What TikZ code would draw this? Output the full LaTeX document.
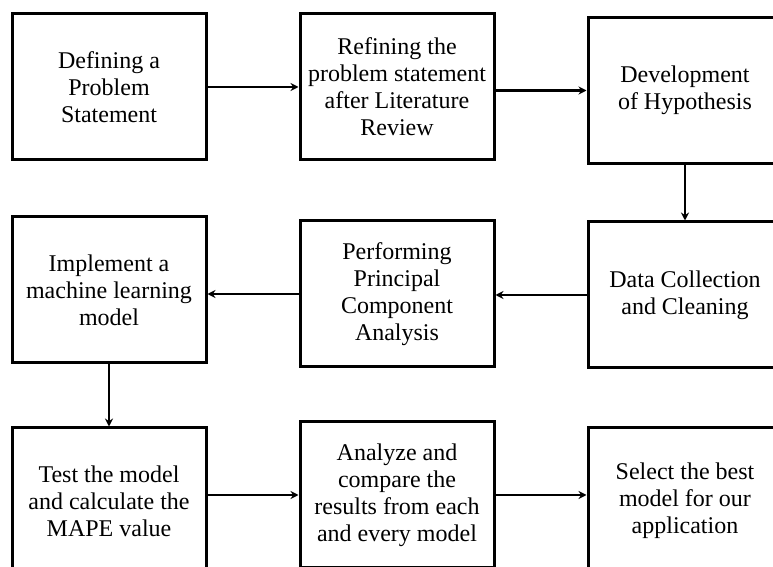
\documentclass[tikz,border=0pt]{standalone}
\usepackage{fontspec}
\setmainfont{Liberation Serif}
\usetikzlibrary{arrows.meta}

\begin{document}
\begin{tikzpicture}[
    x=0.5pt, y=-0.5pt,
    font=\fontsize{12}{13.5}\selectfont,
    >={Stealth[length=4pt,width=4pt]},
    stagebox/.style={draw, black, line width=1.5pt, align=center,
      minimum width=97pt, minimum height=73pt, inner sep=2pt},
    flow/.style={draw, black, line width=1.4pt, ->},
  ]
  \useasboundingbox (0,0) rectangle (773,567);
  \clip (0,0) rectangle (773,567);

  % ---- first row ----
  \node[stagebox] (define) at (109,87) {Defining a\\ Problem\\ Statement};
  \node[stagebox] (refine) at (397,87) {Refining the\\ problem statement\\ after Literature\\ Review};
  \node[stagebox] (hypo) at (685,90.5) {Development\\ of Hypothesis};

  % ---- second row ----
  \node[stagebox] (implement) at (109,290) {Implement a\\ machine learning\\ model};
  \node[stagebox] (pca) at (397,294) {Performing\\ Principal\\ Component\\ Analysis};
  \node[stagebox] (data) at (685,295) {Data Collection\\ and Cleaning};

  % ---- third row ----
  \node[stagebox] (test) at (109,501) {Test the model\\ and calculate the\\ MAPE value};
  \node[stagebox] (analyze) at (397,495) {Analyze and\\ compare the\\ results from each\\ and every model};
  \node[stagebox] (select) at (685,501) {Select the best\\ model for our\\ application};

  % ---- connectors ----
  \draw[flow] (define) -- (refine);
  \draw[flow] (refine.east |- hypo) -- (hypo.west);
  \draw[flow] (hypo) -- (data);
  \draw[flow] (data.west) -- (pca.east |- data);
  \draw[flow] (pca.west) -- (implement.east |- pca);
  \draw[flow] (implement) -- (test);
  \draw[flow] (test.east |- analyze) -- (analyze.west);
  \draw[flow] (analyze.east) -- (select.west |- analyze);
\end{tikzpicture}
\end{document}
